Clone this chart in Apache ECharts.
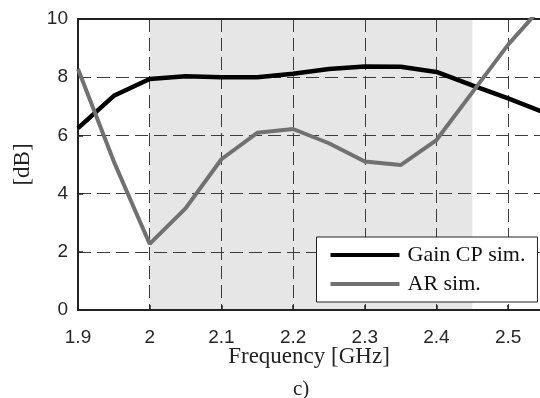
<!DOCTYPE html>
<html>
<head>
<meta charset="utf-8">
<script src="https://cdn.jsdelivr.net/npm/echarts@6/dist/echarts.min.js"></script>
<style>
  html, body { margin: 0; padding: 0; background: #fff; }
  #chart { width: 540px; height: 398px; }
</style>
</head>
<body>
<div id="chart"></div>
<script>
var freq = [1.9, 1.95, 2.0, 2.05, 2.1, 2.15, 2.2, 2.25, 2.3, 2.35, 2.4, 2.45, 2.5, 2.55];
var gainCP = [6.25, 7.36, 7.94, 8.03, 8.0, 8.0, 8.12, 8.28, 8.37, 8.36, 8.18, 7.72, 7.27, 6.79];
var arSim = [8.28, 5.1, 2.27, 3.49, 5.18, 6.09, 6.22, 5.73, 5.1, 4.98, 5.84, 7.48, 9.12, 10.5];
var bandStart = 2.0, bandEnd = 2.45;
var yTicks = [0, 2, 4, 6, 8, 10];

function pairs(xs, ys) {
    var out = [];
    for (var i = 0; i < xs.length; i++) out.push([xs[i], ys[i]]);
    return out;
}

var sans = 'Liberation Sans';
var serif = 'Liberation Serif';
var gridDash = { color: '#3c3c3c', width: 1, type: [13, 6] };

var myChart = echarts.init(document.getElementById('chart'), null, {renderer: 'canvas'});

var options = {
    animation: false,
    backgroundColor: '#fff',
    grid: { left: 78, top: 19, width: 464, height: 291 },
    legend: {
        data: ['Gain CP sim.', 'AR sim.'],
        orient: 'vertical',
        left: 316.5, top: 237,
        backgroundColor: '#fff',
        borderColor: '#222', borderWidth: 1, borderRadius: 0,
        padding: [7, 12, 7, 14],
        itemWidth: 69, itemHeight: 4, itemGap: 7,
        icon: 'rect',
        textStyle: { fontFamily: serif, fontSize: 22, color: '#111', padding: [0, 0, 0, 3] }
    },
    xAxis: [{
        type: 'value',
        min: 1.9, max: 2.5444, interval: 0.1,
        name: 'Frequency [GHz]',
        nameLocation: 'middle', nameGap: 35, nameMoveOverlap: false,
        nameTextStyle: { fontFamily: serif, fontSize: 23, color: '#222' },
        axisLine: { lineStyle: { color: '#222', width: 2 } },
        axisTick: { inside: true, length: 5, lineStyle: { color: '#222', width: 1.5 } },
        axisLabel: { fontFamily: sans, fontSize: 19, color: '#262626', margin: 18, showMaxLabel: false },
        splitLine: { show: true, lineStyle: gridDash }
    }, {
        type: 'value', position: 'top',
        min: 1.9, max: 2.5444,
        axisLine: { lineStyle: { color: '#222', width: 2 } },
        axisTick: { show: false }, axisLabel: { show: false }, splitLine: { show: false }
    }],
    yAxis: {
        type: 'value',
        min: yTicks[0], max: yTicks[yTicks.length - 1], interval: 2,
        name: '[dB]',
        nameLocation: 'middle', nameGap: 44, nameMoveOverlap: false,
        nameTextStyle: { fontFamily: serif, fontSize: 23, color: '#222' },
        axisLine: { show: true, lineStyle: { color: '#222', width: 2 } },
        axisTick: { show: true, inside: true, length: 5, lineStyle: { color: '#222', width: 1.5 } },
        axisLabel: { fontFamily: sans, fontSize: 19, color: '#262626', margin: 10 },
        splitLine: { show: true, lineStyle: gridDash }
    },
    graphic: [{
        type: 'text', left: 293, top: 379,
        style: { text: 'c)', font: '21px "Liberation Serif"', fill: '#222' }
    }],
    series: [{
        name: 'band',
        type: 'line', z: -1,
        data: [],
        markArea: {
            silent: true,
            z: -1,
            itemStyle: { color: '#e6e6e6' },
            data: [[{ xAxis: bandStart, yAxis: 0 }, { xAxis: bandEnd, yAxis: 10 }]]
        }
    }, {
        name: 'Gain CP sim.',
        type: 'line',
        color: '#000',
        showSymbol: false,
        lineStyle: { color: '#000', width: 4.5 },
        data: pairs(freq, gainCP)
    }, {
        name: 'AR sim.',
        type: 'line',
        color: '#717171',
        showSymbol: false,
        lineStyle: { color: '#717171', width: 4 },
        data: pairs(freq, arSim)
    }]
};

myChart.setOption(options);
</script>
</body>
</html>
